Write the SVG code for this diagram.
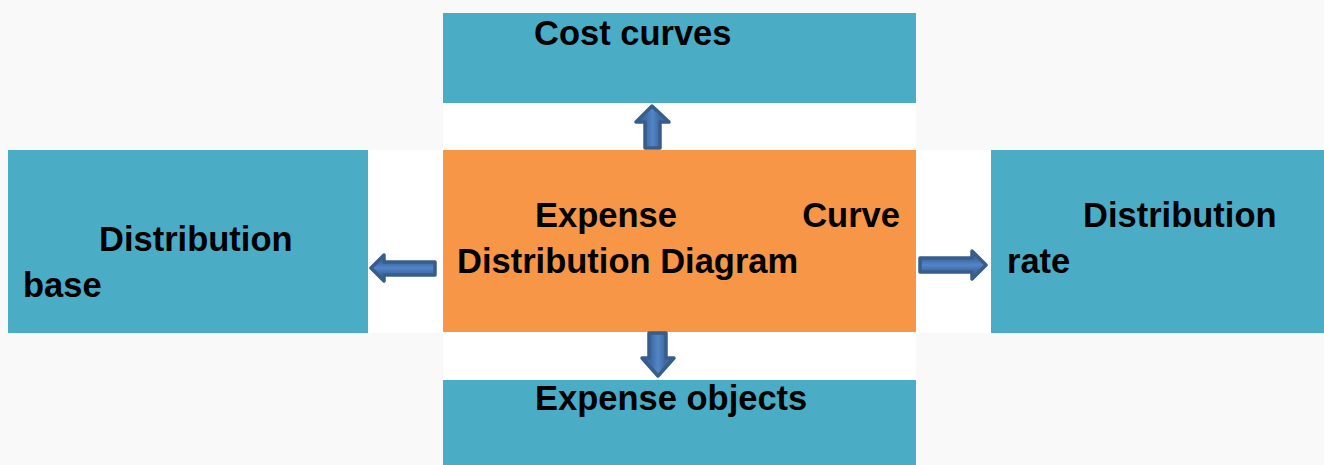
<svg xmlns="http://www.w3.org/2000/svg" width="1324" height="465" viewBox="0 0 1324 465">
  <style>
    .box { fill: #4BACC6; }
    .core { fill: #F79646; }
    .lbl { font-family: "Liberation Sans", Arial, sans-serif; font-weight: bold; font-size: 34.5px; fill: #000; }
    .arrow { fill: url(#shine); stroke: #385D8A; stroke-width: 3.5; stroke-linejoin: round; }
    .arrowV { fill: url(#shineV); stroke: #385D8A; stroke-width: 3.5; stroke-linejoin: round; }
  </style>
  <defs>
    <linearGradient id="shine" x1="0" y1="0" x2="0" y2="1">
      <stop offset="0" stop-color="#3A629A"/>
      <stop offset="0.3" stop-color="#3F6CA8"/>
      <stop offset="0.5" stop-color="#5385C6"/>
      <stop offset="0.7" stop-color="#3F6CA8"/>
      <stop offset="1" stop-color="#3A629A"/>
    </linearGradient>
    <linearGradient id="shineV" x1="0" y1="0" x2="1" y2="0">
      <stop offset="0" stop-color="#3A629A"/>
      <stop offset="0.3" stop-color="#3F6CA8"/>
      <stop offset="0.5" stop-color="#5385C6"/>
      <stop offset="0.7" stop-color="#3F6CA8"/>
      <stop offset="1" stop-color="#3A629A"/>
    </linearGradient>
  </defs>

  <!-- page background and white backing panel -->
  <rect x="0" y="0" width="1324" height="465" fill="#F9F9F9"/>
  <rect x="368" y="150" width="623" height="183" fill="#FFFFFF"/>
  <rect x="443" y="103" width="473" height="277" fill="#FFFFFF"/>

  <g id="cost-curves">
    <rect class="box" x="443" y="13" width="473" height="90"/>
    <text class="lbl" x="534" y="45">Cost curves</text>
  </g>

  <g id="distribution-base">
    <rect class="box" x="8" y="150" width="360" height="183"/>
    <text class="lbl" x="99" y="251">Distribution</text>
    <text class="lbl" x="23" y="297">base</text>
  </g>

  <g id="expense-curve">
    <rect class="core" x="443" y="150" width="473" height="182"/>
    <text class="lbl" x="535" y="227">Expense</text>
    <text class="lbl" x="900" y="227" text-anchor="end">Curve</text>
    <text class="lbl" x="457" y="273">Distribution Diagram</text>
  </g>

  <g id="distribution-rate">
    <rect class="box" x="991" y="150" width="333" height="183"/>
    <text class="lbl" x="1083" y="227">Distribution</text>
    <text class="lbl" x="1007" y="273">rate</text>
  </g>

  <g id="expense-objects">
    <rect class="box" x="443" y="380" width="473" height="85"/>
    <text class="lbl" x="535" y="410">Expense objects</text>
  </g>

  <g id="connectors">
    <!-- up -->
    <path class="arrowV" d="M645,148 L645,122 L636,122 L652,106 L669,122 L660,122 L660,148 Z"/>
    <!-- left -->
    <path class="arrow" d="M435,262 L384,262 L384,255 L371,268 L384,281 L384,275 L435,275 Z"/>
    <!-- right -->
    <path class="arrow" d="M920,258 L972,258 L972,251 L986,265 L972,279 L972,272 L920,272 Z"/>
    <!-- down -->
    <path class="arrowV" d="M649,333 L649,358 L642,358 L658,376 L674,358 L666,358 L666,333 Z"/>
  </g>
</svg>
